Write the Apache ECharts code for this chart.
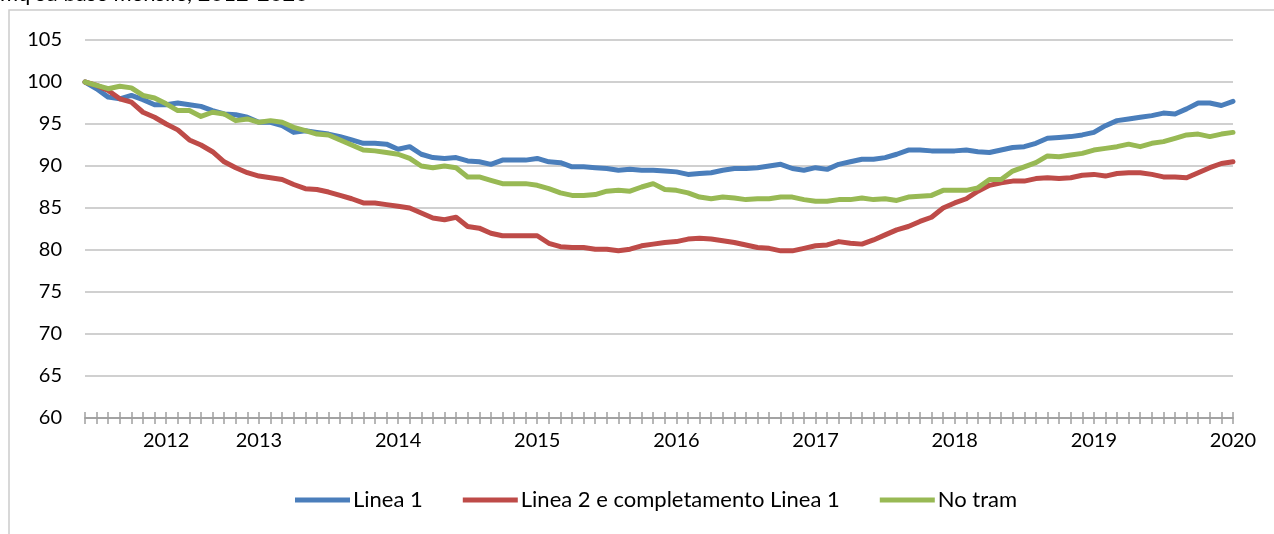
<!DOCTYPE html>
<html>
<head>
<meta charset="utf-8">
<style>
  html, body { margin: 0; padding: 0; background: #fff; }
  #chart { width: 1274px; height: 534px; }
</style>
<script src="https://cdn.jsdelivr.net/npm/echarts@6/dist/echarts.min.js"></script>
</head>
<body>
<div id="chart"></div>
<script>
// Monthly index (start = 100), one point per month
const yearLabels = [
  { index: 7, label: '2012' },
  { index: 15, label: '2013' },
  { index: 27, label: '2014' },
  { index: 39, label: '2015' },
  { index: 51, label: '2016' },
  { index: 63, label: '2017' },
  { index: 75, label: '2018' },
  { index: 87, label: '2019' },
  { index: 99, label: '2020' }
];

const linea1 = [
  100, 99.2, 98.2, 98.0, 98.4, 97.9, 97.3, 97.3, 97.5, 97.3,
  97.1, 96.6, 96.2, 96.1, 95.8, 95.2, 95.2, 94.8, 94.0, 94.2,
  94.0, 93.8, 93.5, 93.1, 92.7, 92.7, 92.6, 92.0, 92.3, 91.4,
  91.0, 90.9, 91.0, 90.6, 90.5, 90.2, 90.7, 90.7, 90.7, 90.9,
  90.5, 90.4, 89.9, 89.9, 89.8, 89.7, 89.5, 89.6, 89.5, 89.5,
  89.4, 89.3, 89.0, 89.1, 89.2, 89.5, 89.7, 89.7, 89.8, 90.0,
  90.2, 89.7, 89.5, 89.8, 89.6, 90.2, 90.5, 90.8, 90.8, 91.0,
  91.4, 91.9, 91.9, 91.8, 91.8, 91.8, 91.9, 91.7, 91.6, 91.9,
  92.2, 92.3, 92.7, 93.3, 93.4, 93.5, 93.7, 94.0, 94.8, 95.4,
  95.6, 95.8, 96.0, 96.3, 96.2, 96.8, 97.5, 97.5, 97.2, 97.7
];

const linea2 = [
  100, 99.6, 99.0, 98.0, 97.6, 96.4, 95.8, 95.0, 94.3, 93.1,
  92.5, 91.7, 90.5, 89.8, 89.2, 88.8, 88.6, 88.4, 87.8, 87.3,
  87.2, 86.9, 86.5, 86.1, 85.6, 85.6, 85.4, 85.2, 85.0, 84.4,
  83.8, 83.6, 83.9, 82.8, 82.6, 82.0, 81.7, 81.7, 81.7, 81.7,
  80.8, 80.4, 80.3, 80.3, 80.1, 80.1, 79.9, 80.1, 80.5, 80.7,
  80.9, 81.0, 81.3, 81.4, 81.3, 81.1, 80.9, 80.6, 80.3, 80.2,
  79.9, 79.9, 80.2, 80.5, 80.6, 81.0, 80.8, 80.7, 81.2, 81.8,
  82.4, 82.8, 83.4, 83.9, 85.0, 85.6, 86.1, 87.0, 87.7, 88.0,
  88.2, 88.2, 88.5, 88.6, 88.5, 88.6, 88.9, 89.0, 88.8, 89.1,
  89.2, 89.2, 89.0, 88.7, 88.7, 88.6, 89.2, 89.8, 90.3, 90.5
];

const noTram = [
  100, 99.6, 99.2, 99.5, 99.3, 98.4, 98.1, 97.4, 96.6, 96.6,
  95.9, 96.4, 96.2, 95.4, 95.6, 95.2, 95.4, 95.2, 94.6, 94.2,
  93.8, 93.7, 93.1, 92.5, 91.9, 91.8, 91.6, 91.4, 90.9, 90.0,
  89.8, 90.0, 89.8, 88.7, 88.7, 88.3, 87.9, 87.9, 87.9, 87.7,
  87.3, 86.8, 86.5, 86.5, 86.6, 87.0, 87.1, 87.0, 87.5, 87.9,
  87.2, 87.1, 86.8, 86.3, 86.1, 86.3, 86.2, 86.0, 86.1, 86.1,
  86.3, 86.3, 86.0, 85.8, 85.8, 86.0, 86.0, 86.2, 86.0, 86.1,
  85.9, 86.3, 86.4, 86.5, 87.1, 87.1, 87.1, 87.4, 88.4, 88.4,
  89.4, 89.9, 90.4, 91.2, 91.1, 91.3, 91.5, 91.9, 92.1, 92.3,
  92.6, 92.3, 92.7, 92.9, 93.3, 93.7, 93.8, 93.5, 93.8, 94.0
];

const seriesNames = ['Linea 1', 'Linea 2 e completamento Linea 1', 'No tram'];
const seriesColors = ['#4a7ebb', '#be4b48', '#98b954'];

// Category axis: one slot per month, year written on selected months
const categories = linea1.map(() => '');
yearLabels.forEach(y => { categories[y.index] = y.label; });

const FONT = 'Lato, "Open Sans", sans-serif';
const chart = echarts.init(document.getElementById('chart'), null, { renderer: 'canvas' });

const axisLineStyle = { color: '#a0a0a0', width: 1.5 };

chart.setOption({
  animation: false,
  backgroundColor: '#ffffff',
  graphic: [
    {
      type: 'rect',
      shape: { x: 9, y: 10, width: 1400, height: 700 },
      style: { fill: 'none', stroke: '#cccccc', lineWidth: 1.5 },
      silent: true
    },
    {
      type: 'text',
      x: 0,
      y: -6,
      style: {
        text: 'mq su base mensile, 2012-2020',
        font: '22px ' + FONT,
        fill: '#000000',
        verticalAlign: 'middle'
      },
      silent: true
    }
  ],
  grid: { left: 85, right: 41, top: 40, bottom: 116 },
  legend: {
    data: seriesNames,
    bottom: 18,
    left: 290,
    icon: 'rect',
    itemWidth: 55,
    itemHeight: 5,
    itemGap: 40,
    textStyle: { fontFamily: FONT, fontSize: 22, color: '#000000', padding: [0, 0, 0, -2] }
  },
  xAxis: [
    {
      type: 'category',
      data: categories,
      boundaryGap: false,
      axisLine: { show: true, lineStyle: axisLineStyle },
      axisTick: { show: true, interval: 0, length: 6, lineStyle: axisLineStyle },
      axisLabel: {
        interval: 0,
        margin: 13,
        fontFamily: FONT,
        fontSize: 20,
        color: '#000000'
      },
      splitLine: { show: false }
    },
    {
      type: 'category',
      data: categories,
      boundaryGap: false,
      position: 'bottom',
      axisLine: { show: true, lineStyle: axisLineStyle },
      axisTick: { show: true, inside: true, interval: 0, length: 6, lineStyle: axisLineStyle },
      axisLabel: { show: false },
      splitLine: { show: false }
    }
  ],
  yAxis: {
    type: 'value',
    min: 60,
    max: 105,
    interval: 5,
    axisLine: { show: false },
    axisTick: { show: false },
    axisLabel: {
      margin: 23,
      fontFamily: FONT,
      fontSize: 20,
      color: '#000000'
    },
    splitLine: { lineStyle: { color: '#c0c0c0', width: 1.5 } }
  },
  series: [linea1, linea2, noTram].map((d, k) => ({
    name: seriesNames[k],
    type: 'line',
    data: d,
    xAxisIndex: 0,
    symbol: 'none',
    smooth: false,
    color: seriesColors[k],
    lineStyle: { width: 5, color: seriesColors[k], cap: 'round', join: 'round' }
  }))
});
</script>
</body>
</html>
